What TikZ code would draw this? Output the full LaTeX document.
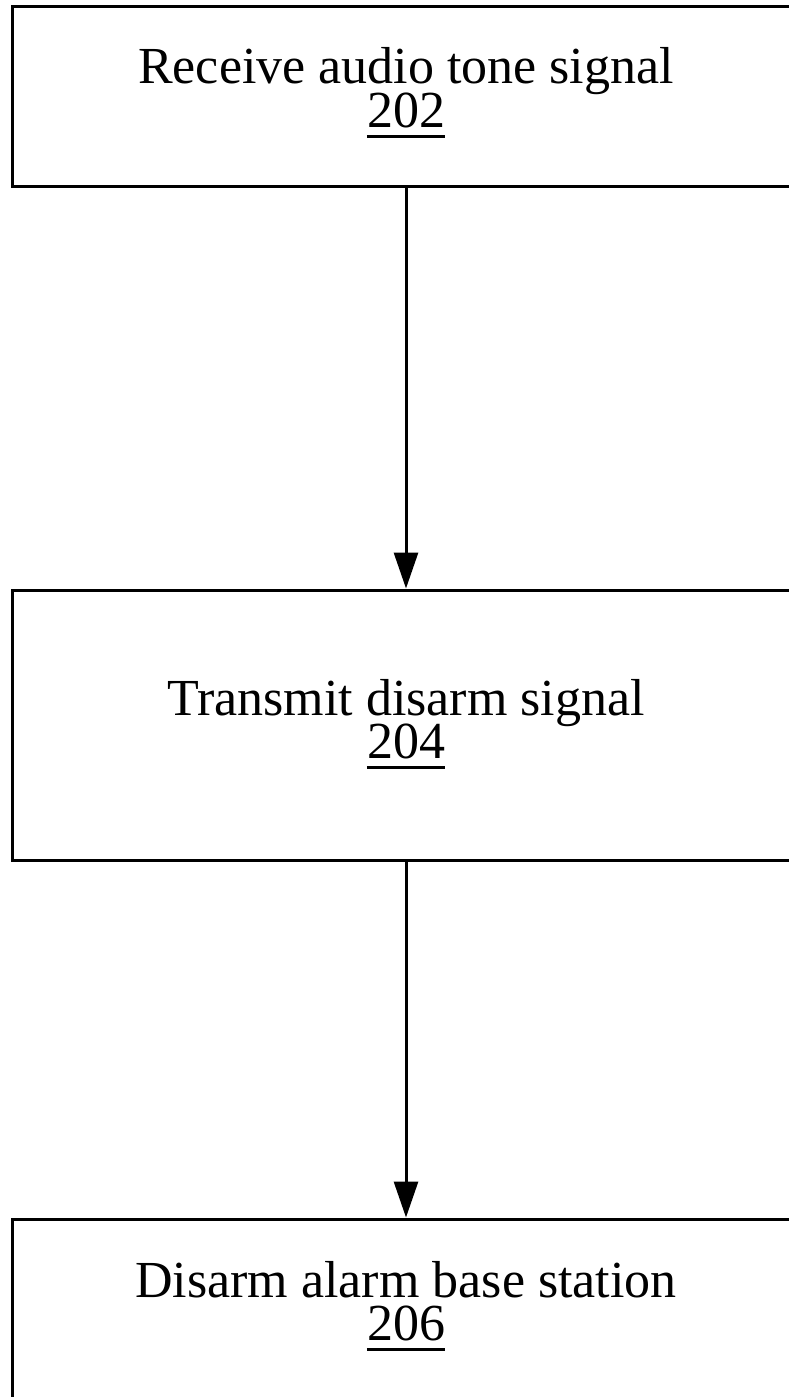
\documentclass[tikz,border=0pt]{standalone}
\usepackage{fontspec}
\setmainfont{Liberation Serif}
\usetikzlibrary{arrows.meta}
\begin{document}
\begin{tikzpicture}[x=1pt,y=-1pt,
  box/.style={draw=black, line width=3pt, inner sep=0pt, minimum width=788pt},
  lbl/.style={inner sep=0pt, anchor=base, font=\fontsize{52}{40}\selectfont},
  title/.style={lbl, text depth=0pt},
  num/.style={lbl},
  flow/.style={line width=3pt, -{Triangle[length=36pt,width=24pt]}},
  uline/.style={line width=3pt}]
\useasboundingbox (0,0) rectangle (789,1397);
% boxes
\node[box, minimum height=179pt] (b1) at (406,96.5) {};
\node[box, minimum height=270pt] (b2) at (406,725) {};
\node[box, minimum height=179pt] (b3) at (406,1308.5) {};
% texts
\node[title] (t1) at (406,84) {Receive audio tone signal};
\node[num] (n1) at (406,127) {202};
\node[title] (t2) at (406,715) {Transmit disarm signal};
\node[num] (n2) at (406,758) {204};
\node[title] (t3) at (406,1297) {Disarm alarm base station};
\node[num] (n3) at (406,1340) {206};
% underlines
\draw[uline] ([yshift=-9pt]n1.base west) -- ([yshift=-9pt]n1.base east);
\draw[uline] ([yshift=-9pt]n2.base west) -- ([yshift=-9pt]n2.base east);
\draw[uline] ([yshift=-9pt]n3.base west) -- ([yshift=-9pt]n3.base east);
% connectors
\draw[flow] (b1.south) -- (b2.north);
\draw[flow] (b2.south) -- (b3.north);
\end{tikzpicture}
\end{document}
